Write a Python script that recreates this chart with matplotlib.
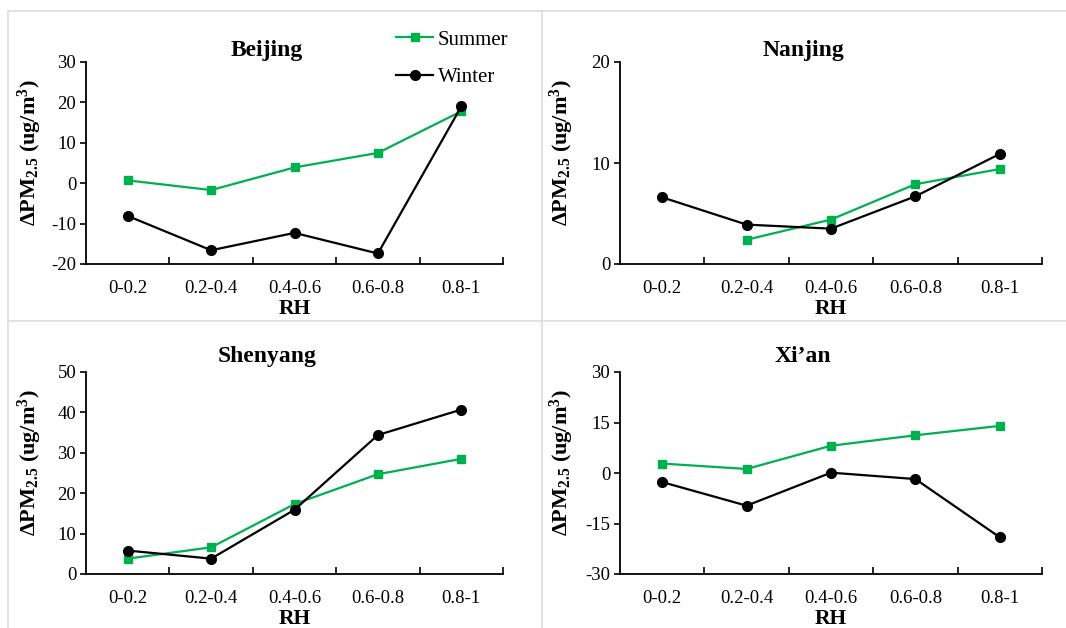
import matplotlib
matplotlib.use('Agg')
import matplotlib.pyplot as plt
from matplotlib.lines import Line2D
import numpy as np

plt.rcParams['font.family'] = 'Liberation Serif'
plt.rcParams['mathtext.fontset'] = 'custom'
plt.rcParams['mathtext.rm'] = 'Liberation Serif'
plt.rcParams['mathtext.bf'] = 'Liberation Serif:bold'
plt.rcParams['mathtext.it'] = 'Liberation Serif:italic'
plt.rcParams['axes.unicode_minus'] = False

# RH bins
rh_bins = ['0-0.2', '0.2-0.4', '0.4-0.6', '0.6-0.8', '0.8-1']

# Delta PM2.5 (ug/m3) per city and season
beijing_summer = [0.7, -1.7, 3.9, 7.5, 17.8]
beijing_winter = [-8.1, -16.6, -12.3, -17.4, 19.0]
nanjing_summer = [np.nan, 2.4, 4.4, 7.9, 9.4]
nanjing_winter = [6.6, 3.9, 3.5, 6.7, 10.9]
shenyang_summer = [3.8, 6.6, 17.3, 24.7, 28.5]
shenyang_winter = [5.8, 3.8, 15.9, 34.4, 40.7]
xian_summer = [2.8, 1.2, 8.1, 11.2, 14.0]
xian_winter = [-2.7, -9.7, 0.1, -1.8, -19.1]

green = '#00b050'

fig = plt.figure(figsize=(10.66, 6.28), dpi=100)

W, H = 1066, 628


def make_axes(x0, x1, ytop, ybot):
    return fig.add_axes([x0 / W, 1 - ybot / H, (x1 - x0) / W, (ybot - ytop) / H])


def draw_panel(ax, title, summer, winter, ylim, yticks, title_pad, ylab_x):
    x = np.arange(len(rh_bins))
    ax.plot(x, summer, color=green, lw=1.6, marker='s', ms=5.5, label='Summer', zorder=3)
    ax.plot(x, winter, color='black', lw=1.6, marker='o', ms=7, label='Winter', zorder=4)
    ax.set_xlim(-0.5, len(rh_bins) - 0.5)
    ax.set_ylim(*ylim)
    ax.set_yticks(yticks)
    ax.set_xticks(x)
    ax.set_xticklabels(rh_bins, fontsize=13.5)
    ax.set_xticks(np.arange(len(rh_bins)) + 0.5, minor=True)
    ax.tick_params(axis='x', which='major', length=0, pad=11.5)
    ax.tick_params(axis='x', which='minor', direction='in', length=5, width=1.2)
    ax.tick_params(axis='y', direction='out', length=4, width=1.2, labelsize=13.5, pad=3)
    for s in ['top', 'right']:
        ax.spines[s].set_visible(False)
    for s in ['left', 'bottom']:
        ax.spines[s].set_linewidth(1.3)
    ax.set_xlabel('RH', fontsize=15.5, fontweight='bold', labelpad=1.5)
    ax.set_ylabel(r'$\mathbf{\Delta PM_{2.5}\ (ug/m^3)}$', fontsize=16)
    ax.yaxis.set_label_coords(ylab_x, 0.55)
    ax.text(0.434, 1 + title_pad, title, transform=ax.transAxes, ha='center',
            va='baseline', fontsize=17, fontweight='bold')


ax1 = make_axes(86, 503, 62, 264)
ax2 = make_axes(620, 1042, 62, 264)
ax3 = make_axes(86, 503, 372, 574)
ax4 = make_axes(620, 1042, 372, 574)

draw_panel(ax1, 'Beijing', beijing_summer, beijing_winter, (-20, 30),
           [-20, -10, 0, 10, 20, 30], 0.03, -0.1)
draw_panel(ax2, 'Nanjing', nanjing_summer, nanjing_winter, (0, 20),
           [0, 10, 20], 0.03, -0.105)
draw_panel(ax3, 'Shenyang', shenyang_summer, shenyang_winter, (0, 50),
           [0, 10, 20, 30, 40, 50], 0.05, -0.1)
draw_panel(ax4, "Xi\u2019an", xian_summer, xian_winter, (-30, 30),
           [-30, -15, 0, 15, 30], 0.05, -0.105)

ax1.legend(loc='upper left', bbox_to_anchor=(0.743, 1.158), frameon=False,
           fontsize=15, handlelength=1.8, handletextpad=0.2, labelspacing=0.85,
           borderpad=0, borderaxespad=0)

# panel frame lines
grey = '#dcdcdc'
for xs, ys in [([8, W], [11, 11]), ([8, 8], [11, H]), ([542, 542], [11, H]),
               ([8, W], [321, 321])]:
    fig.add_artist(Line2D([v / W for v in xs], [1 - v / H for v in ys],
                          color=grey, lw=1.2, transform=fig.transFigure))

fig.savefig('out.png', dpi=100)
